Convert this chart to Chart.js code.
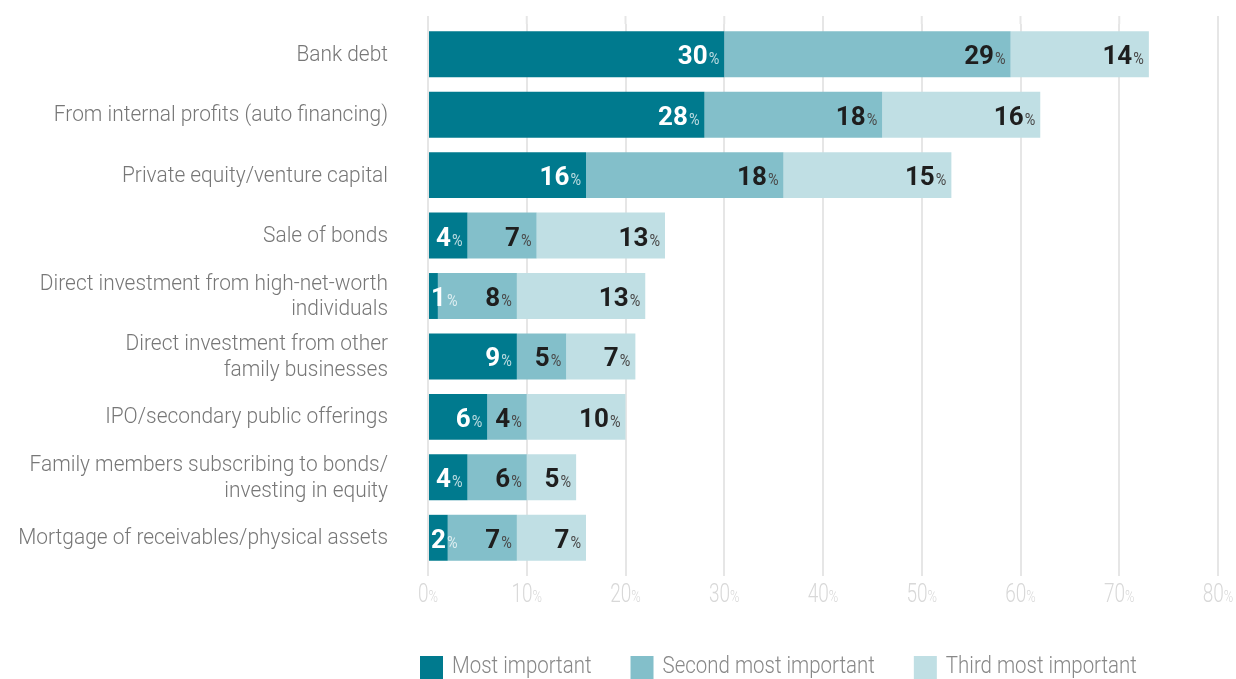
<!DOCTYPE html>
<html>
<head>
<meta charset="utf-8">
<script src="https://cdn.jsdelivr.net/npm/chart.js@4/dist/chart.umd.min.js"></script>
<style>
html,body{margin:0;padding:0;background:#fff;}
canvas{display:block;}
</style>
</head>
<body>
<canvas id="c" width="1236" height="679"></canvas>
<script>
const categories = [
  "Bank debt",
  "From internal profits (auto financing)",
  "Private equity/venture capital",
  "Sale of bonds",
  ["Direct investment from high-net-worth", "individuals"],
  ["Direct investment from other", "family businesses"],
  "IPO/secondary public offerings",
  ["Family members subscribing to bonds/", "investing in equity"],
  "Mortgage of receivables/physical assets"
];
const seriesNames = ["Most important", "Second most important", "Third most important"];
const mostImportant   = [30, 28, 16, 4, 1, 9, 6, 4, 2];
const secondImportant = [29, 18, 20, 7, 8, 5, 4, 6, 7];
const thirdImportant  = [14, 16, 17, 13, 13, 7, 10, 5, 7];
const mostLabels   = ["30", "28", "16", "4", "1", "9", "6", "4", "2"];
const secondLabels = ["29", "18", "18", "7", "8", "5", "4", "6", "7"];
const thirdLabels  = ["14", "16", "15", "13", "13", "7", "10", "5", "7"];
const xTicks = [0, 10, 20, 30, 40, 50, 60, 70, 80];

const FONT = "Roboto, 'Liberation Sans', sans-serif";
const colors = ["#007a8e", "#83bfca", "#c0dfe4"];
const valueLabels = [mostLabels, secondLabels, thirdLabels];
const numColors = ["#ffffff", "#1e1e1e", "#1e1e1e"];
const pctColors = ["rgba(255,255,255,0.72)", "#4a4a4a", "#4a4a4a"];
const SXY = 0.95;  // condensing of category labels
const SXL = 0.89;  // condensing of legend labels

function textW(ctx, font, t) { ctx.font = font; return ctx.measureText(t).width; }
function condText(ctx, font, t, x, y, color, sx) {
  ctx.save();
  ctx.font = font;
  ctx.fillStyle = color;
  ctx.translate(x, y);
  ctx.scale(sx, 1);
  ctx.fillText(t, 0, 0);
  ctx.restore();
}

const extrasPlugin = {
  id: "extras",
  beforeDatasetsDraw(chart) {
    const ctx = chart.ctx, xs = chart.scales.x, area = chart.chartArea;
    ctx.save();
    ctx.strokeStyle = "#e6e6e6";
    ctx.lineWidth = 2;
    xTicks.forEach(v => {
      const x = xs.getPixelForValue(v);
      ctx.beginPath();
      ctx.moveTo(x, area.top - 8);
      ctx.lineTo(x, area.top);
      ctx.stroke();
    });
    ctx.restore();
  },
  afterDatasetsDraw(chart) {
    const ctx = chart.ctx;
    ctx.save();
    ctx.textBaseline = "alphabetic";
    ctx.textAlign = "left";
    const nf = "bold 26px " + FONT, pf = "17px " + FONT;
    chart.data.datasets.forEach((ds, i) => {
      const meta = chart.getDatasetMeta(i);
      meta.data.forEach((el, j) => {
        const num = valueLabels[i][j];
        const wn = textW(ctx, nf, num);
        const wp = textW(ctx, pf, "%") * 0.85;
        const start = Math.min(el.base, el.x);
        let left = el.x - 5 - wn - wp - 1;
        if (left < start + 2) left = start + 2;
        const y = el.y + 10;
        condText(ctx, nf, num, left, y, numColors[i], 1);
        condText(ctx, pf, "%", left + wn + 1, y, pctColors[i], 0.85);
      });
    });
    ctx.restore();
  },
  afterDraw(chart) {
    const ctx = chart.ctx, xs = chart.scales.x, ys = chart.scales.y, area = chart.chartArea;
    ctx.save();
    ctx.textBaseline = "middle";
    ctx.textAlign = "left";
    // y category labels (right aligned, condensed)
    const lf = "300 22px " + FONT;
    categories.forEach((lab, j) => {
      const lines = Array.isArray(lab) ? lab : [lab];
      const yc = ys.getPixelForTick(j) + 1;
      const lh = 25.5;
      lines.forEach((ln, k) => {
        const y = yc + (k - (lines.length - 1) / 2) * lh;
        const w = textW(ctx, lf, ln) * SXY;
        condText(ctx, lf, ln, area.left - 40 - w, y, "#777777", SXY);
      });
    });
    // x tick labels with small percent sign
    ctx.textBaseline = "alphabetic";
    const tf = "300 25px " + FONT, tpf = "300 16px " + FONT;
    xTicks.forEach(v => {
      const x = xs.getPixelForValue(v);
      const t = String(v);
      const wn = textW(ctx, tf, t) * 0.76;
      const wp = textW(ctx, tpf, "%") * 0.8;
      const left = x - (wn + wp) / 2;
      const y = area.bottom + 34;
      condText(ctx, tf, t, left, y, "#d8d8d8", 0.76);
      condText(ctx, tpf, "%", left + wn, y, "#d8d8d8", 0.8);
    });
    // legend
    let lx = 420;
    const ly = 667;
    ctx.textBaseline = "middle";
    const gf = "300 23px " + FONT;
    chart.data.datasets.forEach((ds, i) => {
      ctx.fillStyle = colors[i];
      ctx.fillRect(lx, 656, 23, 24);
      lx += 23 + 9;
      condText(ctx, gf, ds.label, lx, ly, "#888888", SXL);
      lx += textW(ctx, gf, ds.label) * SXL + 39;
    });
    ctx.restore();
  }
};

new Chart(document.getElementById("c"), {
  type: "bar",
  data: {
    labels: categories,
    datasets: [
      { label: seriesNames[0], data: mostImportant, backgroundColor: colors[0] },
      { label: seriesNames[1], data: secondImportant, backgroundColor: colors[1] },
      { label: seriesNames[2], data: thirdImportant, backgroundColor: colors[2] }
    ]
  },
  options: {
    indexAxis: "y",
    responsive: false,
    animation: false,
    maintainAspectRatio: false,
    layout: { padding: { left: 0, right: 18, top: 24, bottom: 0 } },
    datasets: { bar: { categoryPercentage: 0.76, barPercentage: 1.0, borderWidth: 0 } },
    plugins: {
      legend: { display: false },
      tooltip: { enabled: false }
    },
    scales: {
      x: {
        stacked: true,
        min: 0,
        max: 80,
        ticks: { display: false, stepSize: 10 },
        grid: { color: "#e6e6e6", lineWidth: 2, drawTicks: true, tickLength: 8 },
        border: { display: false },
        afterFit(scale) { scale.height = 111; scale.paddingLeft = 0; scale.paddingRight = 0; }
      },
      y: {
        stacked: true,
        grid: { display: false, drawTicks: false },
        border: { display: false },
        ticks: { display: false },
        afterFit(scale) { scale.width = 428; scale.paddingTop = 0; scale.paddingBottom = 0; }
      }
    }
  },
  plugins: [extrasPlugin]
});
</script>
</body>
</html>
